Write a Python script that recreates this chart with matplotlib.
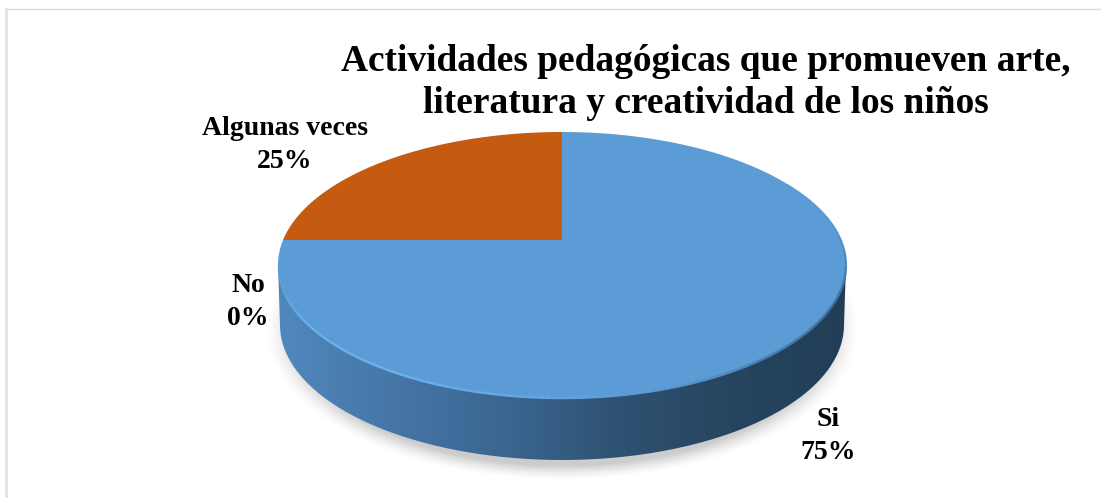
import numpy as np
import matplotlib
matplotlib.use("Agg")
import matplotlib.pyplot as plt
from matplotlib.collections import LineCollection
from matplotlib.colors import LinearSegmentedColormap
from matplotlib.patches import PathPatch
from matplotlib.path import Path

title = "Actividades pedagógicas que promueven arte,\nliteratura y creatividad de los niños"
categories = ["Si", "No", "Algunas veces"]
values = [75, 0, 25]
colors = ["#5B9BD6", "#4A7FB5", "#C55A11"]
label_pos = [(828, 436), (248, 302), (285, 145)]  # centre of each label, in pixels

plt.rcParams["font.family"] = ["Liberation Serif", "DejaVu Serif"]

# pie geometry in pixels, the axes below run in image coordinates
cx, cy = 562, 265
a, b = 284, 133
depth = 60
k = 25 / 133  # how far the tilt moves the apex away from the middle of the ellipse


def project(theta):
    # circle -> tilted disc, keeps the circle but shifts the centre (perspective)
    x, y = np.cos(theta), np.sin(theta)
    xp = x * np.sqrt(1 - k**2) / (1 + k * y)
    yp = (y + k) / (1 + k * y)
    return cx + a * xp, cy - b * yp


fig = plt.figure(figsize=(11.01, 4.98), dpi=100)
ax = fig.add_axes([0, 0, 1, 1])

# soft shadow under the pie
gx, gy = np.meshgrid(np.arange(250, 880), np.arange(120, 490))
d = np.sqrt(((gx - cx) / 297) ** 2 + ((gy - 330) / 150) ** 2)
shadow = np.zeros(d.shape + (4,))
shadow[..., :3] = 0.6
shadow[..., 3] = np.clip((1.0 - d) / 0.1, 0, 1) ** 1.5 * 0.5
ax.imshow(shadow, extent=(250, 880, 490, 120), zorder=1, interpolation="bilinear")

# side wall with a left to right gradient
# outline: bottom half of lower ellipse plus the upper ellipse
low = np.linspace(0, np.pi, 200)
outline = np.c_[np.r_[cx + 282 * np.cos(low), cx - a, cx + a],
                np.r_[cy + depth + 135 * np.sin(low), cy, cy]]
wall = LinearSegmentedColormap.from_list(
    "wall", ["#5088BE", "#4676A6", "#3B6691", "#2F5272", "#264560", "#223E57"])
grad = ax.imshow(np.linspace(0, 1, 300)[None, :], extent=(cx - a, cx + a, 470, cy),
                 cmap=wall, aspect="auto", zorder=2)
clip = PathPatch(Path(outline, closed=False), transform=ax.transData, fc="none", ec="none")
ax.add_patch(clip)
grad.set_clip_path(clip)

# slices on the top face
start = np.pi / 2
for value, color in zip(values, colors):
    if value == 0:
        continue
    sweep = 2 * np.pi * value / sum(values)
    t = np.linspace(start, start - sweep, 300)
    px, py = project(t)
    ax.fill(np.r_[project(np.pi / 2)[0], px], np.r_[cy - b * k, py], color=color, lw=0, zorder=3)
    start -= sweep

# rim highlight along the front, dark edge towards the right
rim_t = np.linspace(np.pi * 1.0, 2 * np.pi + 0.65, 300)
rx = cx + a * np.cos(rim_t)
ry = cy - b * np.sin(rim_t)
seg = np.stack([np.c_[rx[:-1], ry[:-1]], np.c_[rx[1:], ry[1:]]], axis=1)
rim_cmap = LinearSegmentedColormap.from_list(
    "rim", ["#5B9BD6", "#6CB0EC", "#6CB0EC", "#68A8E2", "#5B9BD6", "#4A7FB0", "#3F6E9C", "#4F86BC", "#5B9BD6"])
rim_w = np.interp(np.linspace(0, 1, len(seg)), [0, 0.08, 0.8, 1], [0.3, 1.8, 1.8, 0.2])
rim = LineCollection(seg, cmap=rim_cmap, linewidths=rim_w, zorder=4, capstyle="butt")
rim.set_array(np.linspace(0, 1, len(seg)))
ax.add_collection(rim)

# picture frame, only left and top are visible
ax.plot([6, 6], [9, 498], color="#DEDEDE", lw=1.8, zorder=0)
ax.plot([6, 1101], [9, 9], color="#DEDEDE", lw=1.0, zorder=0)

ax.text(706, 82.5, title, ha="center", va="center", fontsize=26.9, fontweight="bold",
        color="black", linespacing=1.24, zorder=6)
for name, value, (lx, ly) in zip(categories, values, label_pos):
    ax.text(lx, ly, f"{name}\n{value}%", ha="center", va="center", fontsize=20,
            fontweight="bold", color="black", linespacing=1.38, zorder=6)

ax.set_xlim(0, 1101)
ax.set_ylim(498, 0)
ax.set_aspect("auto")
ax.axis("off")
fig.savefig("out.png", dpi=100, facecolor="white")
